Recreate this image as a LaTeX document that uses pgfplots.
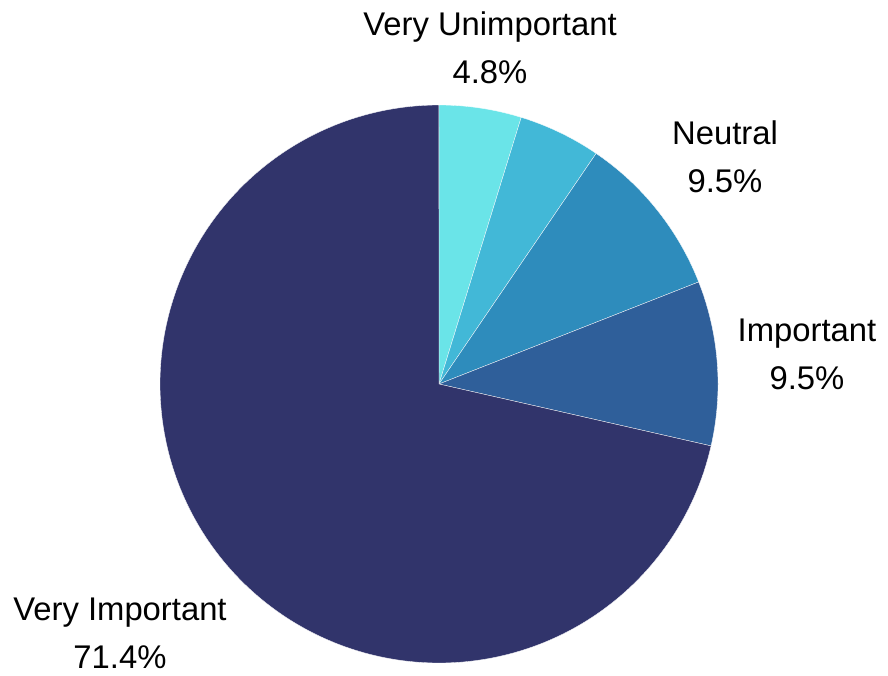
\documentclass[border=0pt]{standalone}
\usepackage{pgfplots}
\pgfplotsset{compat=1.18}
\usepackage{fontspec}
\setmainfont{Liberation Sans}
\definecolor{c1}{HTML}{6AE4E8}
\definecolor{c2}{HTML}{42B8D7}
\definecolor{c3}{HTML}{2E8CBC}
\definecolor{c4}{HTML}{2F5F9A}
\definecolor{c5}{HTML}{31346B}
% shares (percent) of the five answers
\def\pA{4.76}\def\pB{4.76}\def\pC{9.52}\def\pD{9.52}\def\pE{71.43}
\pgfmathsetmacro\aO{90}
\pgfmathsetmacro\aA{\aO-3.6*\pA}
\pgfmathsetmacro\aB{\aA-3.6*\pB}
\pgfmathsetmacro\aC{\aB-3.6*\pC}
\pgfmathsetmacro\aD{\aC-3.6*\pD}
\pgfmathsetmacro\aE{\aD-3.6*\pE}
\def\cx{439}\def\cy{291}\def\R{279}
\tikzset{lbl/.style={font=\fontsize{16.4}{24}\selectfont, align=center, inner sep=0pt, text=black}}
\begin{document}
\begin{tikzpicture}
\begin{axis}[
  width=444pt, height=337.5pt, scale only axis,
  xmin=0, xmax=888, ymin=0, ymax=675,
  axis lines=none, clip=false,
  every axis plot/.append style={draw=white, line width=0.15pt, samples=120},
]
\path (rel axis cs:0,0) rectangle (rel axis cs:1,1);
\addplot[fill=c1, domain=\aA:\aO] ({\cx+\R*cos(x)},{\cy+\R*sin(x)}) -- (axis cs:\cx,\cy) -- cycle;
\addplot[fill=c2, domain=\aB:\aA] ({\cx+\R*cos(x)},{\cy+\R*sin(x)}) -- (axis cs:\cx,\cy) -- cycle;
\addplot[fill=c3, domain=\aC:\aB] ({\cx+\R*cos(x)},{\cy+\R*sin(x)}) -- (axis cs:\cx,\cy) -- cycle;
\addplot[fill=c4, domain=\aD:\aC] ({\cx+\R*cos(x)},{\cy+\R*sin(x)}) -- (axis cs:\cx,\cy) -- cycle;
\addplot[fill=c5, domain=\aE:\aD, samples=300] ({\cx+\R*cos(x)},{\cy+\R*sin(x)}) -- (axis cs:\cx,\cy) -- cycle;
\node[lbl] at (axis cs:490,627) {Very Unimportant\\4.8\%};
\node[lbl] at (axis cs:725,518) {Neutral\\9.5\%};
\node[lbl] at (axis cs:807,321) {Important\\9.5\%};
\node[lbl] at (axis cs:120,42) {Very Important\\71.4\%};
\end{axis}
\end{tikzpicture}
\end{document}
